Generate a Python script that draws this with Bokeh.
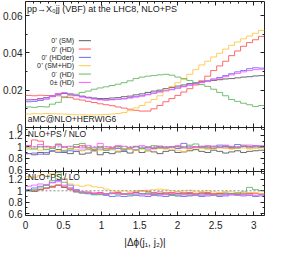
import numpy as np
from bokeh.plotting import figure
from bokeh.models import Range1d, LinearAxis, FixedTicker, Label, Span
from bokeh.embed import file_html
from bokeh.resources import INLINE

# ---------------- data ----------------
N_BINS = 40
X_MAX = float(np.pi)

series_names = ["0⁺ (SM)", "0⁺ (HD)", "0⁺ (HDder)", "0⁺ (SM+HD)", "0⁻ (HD)", "0± (HD)"]
series_colors = ["#5a5a5a", "#ff5a5a", "#6a6aff", "#ffc84a", "#66b866", "#ff5cff"]

main_sm = [0.0148, 0.0150, 0.0155, 0.0160, 0.0170, 0.0180, 0.0182, 0.0178, 0.0172, 0.0168,
           0.0162, 0.0158, 0.0155, 0.0155, 0.0158, 0.0160, 0.0165, 0.0168, 0.0175, 0.0180,
           0.0188, 0.0195, 0.0200, 0.0208, 0.0215, 0.0222, 0.0228, 0.0235, 0.0240, 0.0245,
           0.0248, 0.0252, 0.0256, 0.0260, 0.0262, 0.0266, 0.0270, 0.0272, 0.0276, 0.0278]
main_hd = [0.0172, 0.0170, 0.0173, 0.0171, 0.0168, 0.0170, 0.0164, 0.0160, 0.0152, 0.0147,
           0.0140, 0.0134, 0.0127, 0.0122, 0.0117, 0.0110, 0.0104, 0.0098, 0.0092, 0.0088,
           0.0088, 0.0100, 0.0118, 0.0138, 0.0155, 0.0172, 0.0190, 0.0208, 0.0228, 0.0250,
           0.0275, 0.0305, 0.0330, 0.0355, 0.0385, 0.0410, 0.0435, 0.0455, 0.0470, 0.0488]
main_hdder = [0.0138, 0.0140, 0.0145, 0.0152, 0.0165, 0.0178, 0.0185, 0.0180, 0.0172, 0.0165,
              0.0160, 0.0155, 0.0150, 0.0148, 0.0150, 0.0152, 0.0155, 0.0160, 0.0165, 0.0170,
              0.0178, 0.0185, 0.0192, 0.0198, 0.0205, 0.0212, 0.0220, 0.0228, 0.0235, 0.0242,
              0.0250, 0.0260, 0.0268, 0.0278, 0.0288, 0.0298, 0.0305, 0.0315, 0.0320, 0.0318]
main_smhd = [0.0072, 0.0074, 0.0073, 0.0075, 0.0074, 0.0073, 0.0072, 0.0070, 0.0068, 0.0068,
             0.0067, 0.0068, 0.0068, 0.0070, 0.0072, 0.0075, 0.0080, 0.0090, 0.0105, 0.0118,
             0.0135, 0.0150, 0.0170, 0.0200, 0.0220, 0.0240, 0.0258, 0.0285, 0.0310, 0.0335,
             0.0355, 0.0378, 0.0398, 0.0420, 0.0440, 0.0458, 0.0475, 0.0490, 0.0505, 0.0520]
main_odd = [0.0110, 0.0108, 0.0112, 0.0110, 0.0125, 0.0135, 0.0160, 0.0170, 0.0178, 0.0188,
            0.0195, 0.0205, 0.0212, 0.0218, 0.0225, 0.0232, 0.0240, 0.0250, 0.0262, 0.0270,
            0.0275, 0.0278, 0.0282, 0.0285, 0.0280, 0.0270, 0.0262, 0.0252, 0.0240, 0.0230,
            0.0220, 0.0205, 0.0188, 0.0170, 0.0150, 0.0140, 0.0130, 0.0122, 0.0112, 0.0118]
main_mix = [0.0150, 0.0148, 0.0152, 0.0158, 0.0168, 0.0182, 0.0186, 0.0178, 0.0170, 0.0163,
            0.0158, 0.0152, 0.0148, 0.0146, 0.0148, 0.0150, 0.0153, 0.0158, 0.0163, 0.0168,
            0.0175, 0.0182, 0.0190, 0.0196, 0.0202, 0.0210, 0.0218, 0.0226, 0.0233, 0.0240,
            0.0248, 0.0256, 0.0264, 0.0272, 0.0282, 0.0290, 0.0298, 0.0305, 0.0310, 0.0312]

r1_sm = [0.88, 0.86, 0.90, 0.87, 0.93, 0.95, 0.90, 0.88, 0.92, 0.87, 0.89, 0.93, 0.86, 0.90, 0.88,
         0.91, 0.92, 0.89, 0.94, 0.90, 0.93, 0.91, 0.88, 0.92, 0.94, 0.90, 0.91, 0.93, 0.95, 0.92,
         0.90, 0.94, 0.92, 0.89, 0.91, 0.93, 0.90, 0.92, 0.93, 0.94]
r1_hd = [1.02, 1.12, 1.10, 1.00, 0.98, 1.04, 1.00, 0.97, 0.99, 1.02, 0.98, 0.96, 1.00, 0.97, 0.99,
         1.01, 0.96, 0.98, 1.00, 0.97, 0.99, 0.98, 1.01, 0.97, 0.99, 1.00, 0.98, 0.97, 1.00, 0.99,
         1.01, 0.98, 0.99, 1.00, 0.97, 0.99, 1.01, 0.98, 1.00, 0.99]
r1_hdder = [0.88, 0.89, 0.87, 0.90, 0.92, 0.90, 0.91, 0.93, 0.92, 0.94, 0.95, 0.93, 0.96, 0.94, 0.95,
            0.97, 0.94, 0.96, 0.95, 0.98, 0.96, 0.97, 0.99, 0.98, 1.00, 0.97, 1.06, 0.98, 0.99, 1.01,
            0.98, 0.97, 1.03, 1.00, 0.99, 1.04, 1.01, 1.00, 1.02, 1.00]
r1_smhd = [0.95, 0.97, 0.94, 0.96, 0.98, 0.92, 0.94, 0.97, 0.95, 0.93, 0.96, 0.92, 0.94, 0.96, 0.95,
           0.93, 0.97, 0.95, 0.94, 0.96, 0.93, 0.95, 0.97, 0.96, 0.98, 0.94, 0.92, 0.96, 0.98, 0.97,
           0.95, 0.96, 0.98, 0.97, 0.96, 0.97, 0.98, 0.96, 0.97, 0.98]
r1_odd = [0.98, 0.96, 1.00, 0.95, 0.97, 1.05, 0.93, 0.96, 1.04, 1.06, 0.98, 0.95, 0.99, 0.94, 0.97,
          1.00, 0.96, 0.98, 1.01, 0.97, 0.99, 1.02, 0.98, 0.99, 1.00, 1.01, 0.99, 1.03, 1.05, 1.00,
          0.98, 1.01, 0.99, 1.02, 1.00, 0.98, 1.03, 1.01, 1.00, 0.99]
r1_mix = [1.02, 1.00, 1.04, 1.01, 1.00, 1.03, 0.99, 1.01, 1.00, 0.98, 1.02, 0.99, 1.06, 1.00, 0.98,
          1.02, 1.01, 0.99, 1.00, 1.02, 1.00, 0.98, 1.01, 1.00, 0.99, 1.02, 1.00, 1.01, 0.99, 1.00,
          1.02, 1.01, 1.00, 1.03, 1.01, 1.00, 1.02, 1.03, 1.01, 1.02]

r2_sm = [1.00, 0.99, 1.02, 1.05, 1.08, 1.10, 1.06, 1.03, 0.98, 0.96, 0.97, 0.95, 0.96, 0.94, 0.95,
         0.96, 0.94, 0.95, 0.97, 0.95, 0.96, 0.94, 0.95, 0.96, 0.94, 0.95, 0.96, 0.95, 0.94, 0.96,
         0.95, 0.94, 0.95, 0.96, 0.95, 0.94, 0.95, 0.96, 0.95, 0.94]
r2_hd = [1.01, 1.00, 1.02, 1.04, 1.06, 1.10, 1.08, 1.02, 0.99, 0.97, 0.98, 0.96, 0.97, 0.95, 0.96,
         0.97, 0.95, 0.96, 0.98, 1.00, 0.99, 0.97, 0.98, 0.96, 0.97, 0.98, 0.96, 0.97, 0.95, 0.96,
         0.97, 0.95, 0.96, 0.94, 0.95, 0.96, 0.94, 0.95, 0.96, 0.95]
r2_hdder = [1.02, 1.05, 1.08, 1.10, 1.15, 1.18, 1.20, 1.10, 1.02, 0.98, 0.95, 0.93, 0.94, 0.92, 0.90,
            0.91, 0.90, 0.91, 0.92, 0.91, 0.90, 0.92, 0.91, 0.90, 0.92, 0.91, 0.90, 0.91, 0.92, 0.90,
            0.91, 0.92, 0.90, 0.91, 0.93, 0.92, 0.91, 0.92, 0.90, 0.91]
r2_smhd = [1.25, 1.24, 1.27, 1.26, 1.30, 1.28, 1.22, 1.12, 1.10, 1.08, 1.10, 1.07, 1.06, 1.03, 1.00,
           0.99, 1.00, 0.98, 1.00, 0.99, 1.01, 1.02, 1.03, 1.02, 1.00, 0.99, 1.00, 1.01, 0.98, 0.99,
           1.00, 0.98, 0.97, 0.99, 0.98, 0.97, 0.96, 0.97, 0.96, 0.95]
r2_odd = [1.00, 1.02, 1.05, 1.10, 1.18, 1.32, 1.15, 1.05, 1.00, 0.97, 0.95, 0.94, 0.93, 0.95, 0.96,
          0.94, 0.95, 0.93, 0.94, 0.95, 0.94, 0.96, 0.93, 0.94, 0.92, 0.91, 0.93, 0.92, 0.93, 0.94,
          0.93, 0.92, 0.94, 0.93, 0.95, 0.96, 0.98, 1.06, 1.02, 1.00]
r2_mix = [1.08, 1.10, 1.12, 1.11, 1.14, 1.16, 1.10, 1.05, 1.00, 0.98, 0.97, 0.96, 0.95, 0.94, 0.96,
          0.95, 0.94, 0.95, 0.96, 0.94, 0.93, 0.95, 0.94, 0.93, 0.95, 0.94, 0.93, 0.94, 0.93, 0.92,
          0.94, 0.93, 0.92, 0.94, 0.93, 0.92, 0.93, 0.94, 0.92, 0.93]

x_ticks = [0.0, 0.5, 1.0, 1.5, 2.0, 2.5, 3.0]
x_tick_labels = ["0", "0.5", "1", "1.5", "2", "2.5", "3"]
main_y_ticks = [0.0, 0.02, 0.04, 0.06]
main_y_tick_labels = ["0", "0.02", "0.04", "0.06"]
ratio_y_ticks = [0.6, 0.8, 1.0, 1.2]
ratio_y_tick_labels = ["0.6", "0.8", "1", "1.2"]

title_text = "pp→X₀jj (VBF) at the LHC8, NLO+PS"
generator_text = "aMC@NLO+HERWIG6"
ratio1_text = "NLO+PS / NLO"
ratio2_text = "NLO+PS / LO"
x_title = "|Δϕ(j₁, j₂)|"

# ---------------- styling / layout ----------------
FONT = "Liberation Sans"
INK = "#222222"
W, H = 267, 250
BL, BR, BT = 23, 3, 1
PANEL_PX = [126, 44, 44]          # heights of the three stacked panels (px)
MAIN_SPAN = (0.0, 0.0675)
RATIO_SPAN = (0.565, 1.34)

edges = np.linspace(0.0, X_MAX, N_BINS + 1)
x_minor = [round(v, 1) for v in np.arange(0.0, 3.15, 0.1)]
main_minor = [round(0.01 * k, 2) for k in range(0, 7)]
ratio_minor = [round(0.6 + 0.1 * k, 1) for k in range(0, 8)]

main_series = [main_sm, main_hd, main_hdder, main_smhd, main_odd, main_mix]
r1_series = [r1_sm, r1_hd, r1_hdder, r1_smhd, r1_odd, r1_mix]
r2_series = [r2_sm, r2_hd, r2_hdder, r2_smhd, r2_odd, r2_mix]


def full_range(span, panel_index):
    """Extend a panel's span so it fills its slot in the shared frame."""
    total = sum(PANEL_PX)
    above = sum(PANEL_PX[:panel_index])
    below = total - above - PANEL_PX[panel_index]
    per_px = (span[1] - span[0]) / PANEL_PX[panel_index]
    return (span[0] - below * per_px, span[1] + above * per_px)


ranges = {"default": full_range(MAIN_SPAN, 0),
          "r1": full_range(RATIO_SPAN, 1),
          "r2": full_range(RATIO_SPAN, 2)}

p = figure(width=W, height=H, x_range=Range1d(0, X_MAX), y_range=Range1d(*ranges["default"]),
           output_backend="svg", toolbar_location=None,
           x_axis_location=None, y_axis_location=None,
           min_border_left=BL, min_border_right=BR, min_border_top=BT, min_border_bottom=0)
p.extra_y_ranges = {"r1": Range1d(*ranges["r1"]), "r2": Range1d(*ranges["r2"])}
p.grid.visible = False
p.outline_line_color = INK
p.outline_line_width = 1


def to_default(v, range_name):
    """Map a value of a panel range onto the shared (default) range, for the left tick labels."""
    s, e = ranges[range_name]
    ds, de = ranges["default"]
    return ds + (v - s) * (de - ds) / (e - s)


def tick_style(ax, labels=True):
    ax.major_tick_in = 4
    ax.major_tick_out = 0
    ax.minor_tick_in = 2
    ax.minor_tick_out = 0
    ax.axis_line_color = None
    ax.major_tick_line_color = INK
    ax.minor_tick_line_color = INK
    ax.major_label_text_font = FONT
    ax.major_label_text_font_size = "10px"
    ax.major_label_text_color = INK
    if not labels:
        ax.major_label_overrides = {t: "" for t in ax.ticker.ticks}


# one left axis carrying the tick labels of all three panels
left_ticks, left_minor, left_labels = [], [], {}
for rn, ticks, labels, minor in (("default", main_y_ticks, main_y_tick_labels, main_minor),
                                 ("r1", ratio_y_ticks, ratio_y_tick_labels, ratio_minor),
                                 ("r2", ratio_y_ticks, ratio_y_tick_labels, ratio_minor)):
    for t, s in zip(ticks, labels):
        pos = to_default(t, rn)
        left_ticks.append(pos)
        left_labels[pos] = s
    left_minor += [to_default(m, rn) for m in minor]

yl = LinearAxis(ticker=FixedTicker(ticks=left_ticks, minor_ticks=left_minor),
                major_label_overrides=left_labels)
tick_style(yl)
yl.major_label_standoff = 3
p.add_layout(yl, "left")

yr = LinearAxis(ticker=FixedTicker(ticks=left_ticks, minor_ticks=left_minor), fixed_location=X_MAX)
tick_style(yr, labels=False)
p.add_layout(yr, "right")


def add_panel_edges(range_name, span):
    for loc, side in ((span[1], "above"), (span[0], "below")):
        ax = LinearAxis(ticker=FixedTicker(ticks=x_ticks, minor_ticks=x_minor),
                        y_range_name=range_name, fixed_location=loc)
        tick_style(ax, labels=False)
        p.add_layout(ax, side)
    p.add_layout(Span(location=span[0], dimension="width", y_range_name=range_name,
                      line_color=INK, line_width=1))


add_panel_edges("default", MAIN_SPAN)
add_panel_edges("r1", RATIO_SPAN)
add_panel_edges("r2", RATIO_SPAN)

# bottom x axis with labels and title
xbot = LinearAxis(ticker=FixedTicker(ticks=x_ticks, minor_ticks=x_minor),
                  major_label_overrides={t: s for t, s in zip(x_ticks, x_tick_labels)})
tick_style(xbot)
xbot.major_tick_in = 0
xbot.minor_tick_in = 0
xbot.major_label_standoff = 5
xbot.axis_label = x_title
xbot.axis_label_text_font = FONT
xbot.axis_label_text_font_size = "10px"
xbot.axis_label_text_font_style = "normal"
xbot.axis_label_text_color = INK
xbot.axis_label_standoff = 5
p.add_layout(xbot, "below")

# unity reference lines in the ratio panels
for rn in ("r1", "r2"):
    p.add_layout(Span(location=1.0, dimension="width", y_range_name=rn,
                      line_color="#8a8a8a", line_dash="2 2", line_width=1))


def draw_hist(series, range_name):
    for vals, col in zip(series, series_colors):
        y = list(vals) + [vals[-1]]
        p.step(x=edges, y=y, mode="after", line_color=col, line_width=1, line_alpha=0.9,
               y_range_name=range_name)


draw_hist(main_series, "default")
draw_hist(r1_series, "r1")
draw_hist(r2_series, "r2")


def add_text(text, x, y, range_name="default", size="8.5px", align="left"):
    p.add_layout(Label(x=x, y=y, text=text, text_font=FONT, text_font_size=size,
                       text_color=INK, text_baseline="middle", text_align=align,
                       y_range_name=range_name))


add_text(title_text, 0.02, 0.0635, size="9px")
add_text(generator_text, 0.03, 0.0045)
add_text(ratio1_text, 0.03, 1.22, "r1")
add_text(ratio2_text, 0.03, 1.235, "r2")

# legend, gnuplot style: label then sample line
leg_text_x = 0.64
leg_x0, leg_x1 = 0.70, 0.86
leg_y_top, leg_dy = 0.0465, 0.00447
for i, (name, col) in enumerate(zip(series_names, series_colors)):
    yy = leg_y_top - i * leg_dy
    add_text(name, leg_text_x, yy, size="7px", align="right")
    p.segment(x0=[leg_x0], y0=[yy], x1=[leg_x1], y1=[yy], line_color=col, line_width=1)

open("out.html", "w").write(file_html(p, INLINE))
